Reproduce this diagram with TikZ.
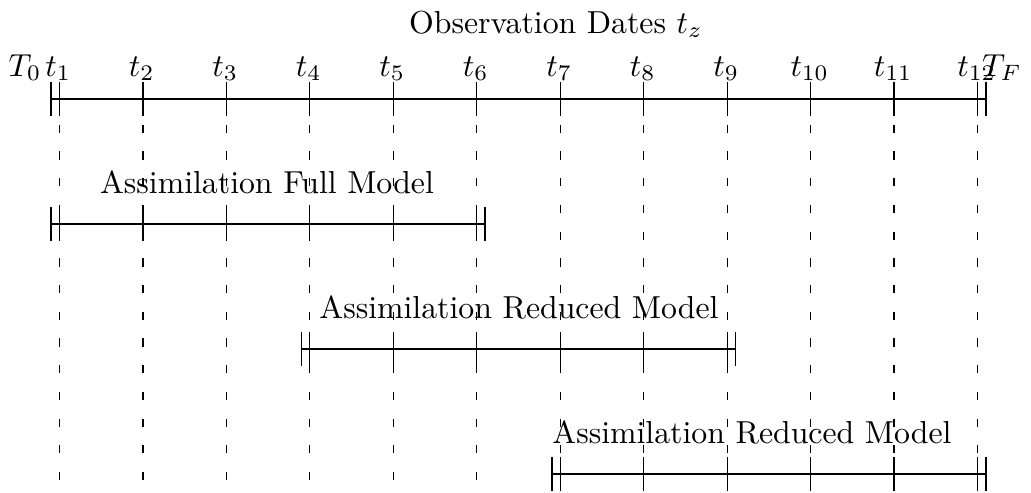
\documentclass[tikz,border=0pt]{standalone}
\begin{document}
\begin{tikzpicture}[x=0.3145pt,y=-0.3145pt,
  axisline/.style={line width=0.45pt},
  guide/.style={line width=0.45pt, dash pattern=on 2.6pt off 5.8pt},
  lbl/.style={anchor=base, inner sep=0pt}]
\useasboundingbox (0,0) rectangle (1031,493);
% dashed guide lines
\foreach \i in {1,...,12}{
  \pgfmathsetmacro\xx{59.3+(\i-1)*83.49}
  \coordinate (g\i a) at (\xx,98);
  \coordinate (g\i b) at (\xx,481);
  \draw[guide] (g\i a) -- (g\i b);
}
% rows: y, first index, last index
\foreach \y/\s/\e in {99/1/12, 224/1/6, 349/4/9, 474/7/12}{
  \pgfmathsetmacro\xs{59.3+(\s-1)*83.49-8.35}
  \pgfmathsetmacro\xe{59.3+(\e-1)*83.49+8.35}
  \coordinate (rs) at (\xs,\y);
  \coordinate (re) at (\xe,\y);
  \draw[axisline] (rs) -- (re);
  \draw[axisline] (\xs,\y-17) -- (\xs,\y+17);
  \draw[axisline] (\xe,\y-17) -- (\xe,\y+17);
  \foreach \i in {\s,...,\e}{
    \pgfmathsetmacro\xx{59.3+(\i-1)*83.49}
    \draw[axisline] (\xx,\y-17) -- (\xx,\y+17);
  }
}
% tick labels
\foreach \i in {1,...,12}{
  \pgfmathsetmacro\xx{59.3+(\i-1)*83.49-1}
  \node[lbl] (t\i) at (\xx,76) {$t_{\i}$};
}
\node[lbl] (T0) at (25,76) {$T_0$};
\node[lbl] (TF) at (1002,76) {$T_F$};
\node[lbl] (title) at (556,33) {Observation Dates $t_z$};
\node[lbl] (full) at (267,193) {Assimilation Full Model};
\node[lbl] (red1) at (519,318) {Assimilation Reduced Model};
\node[lbl] (red2) at (752,443) {Assimilation Reduced Model};
\end{tikzpicture}
\end{document}
